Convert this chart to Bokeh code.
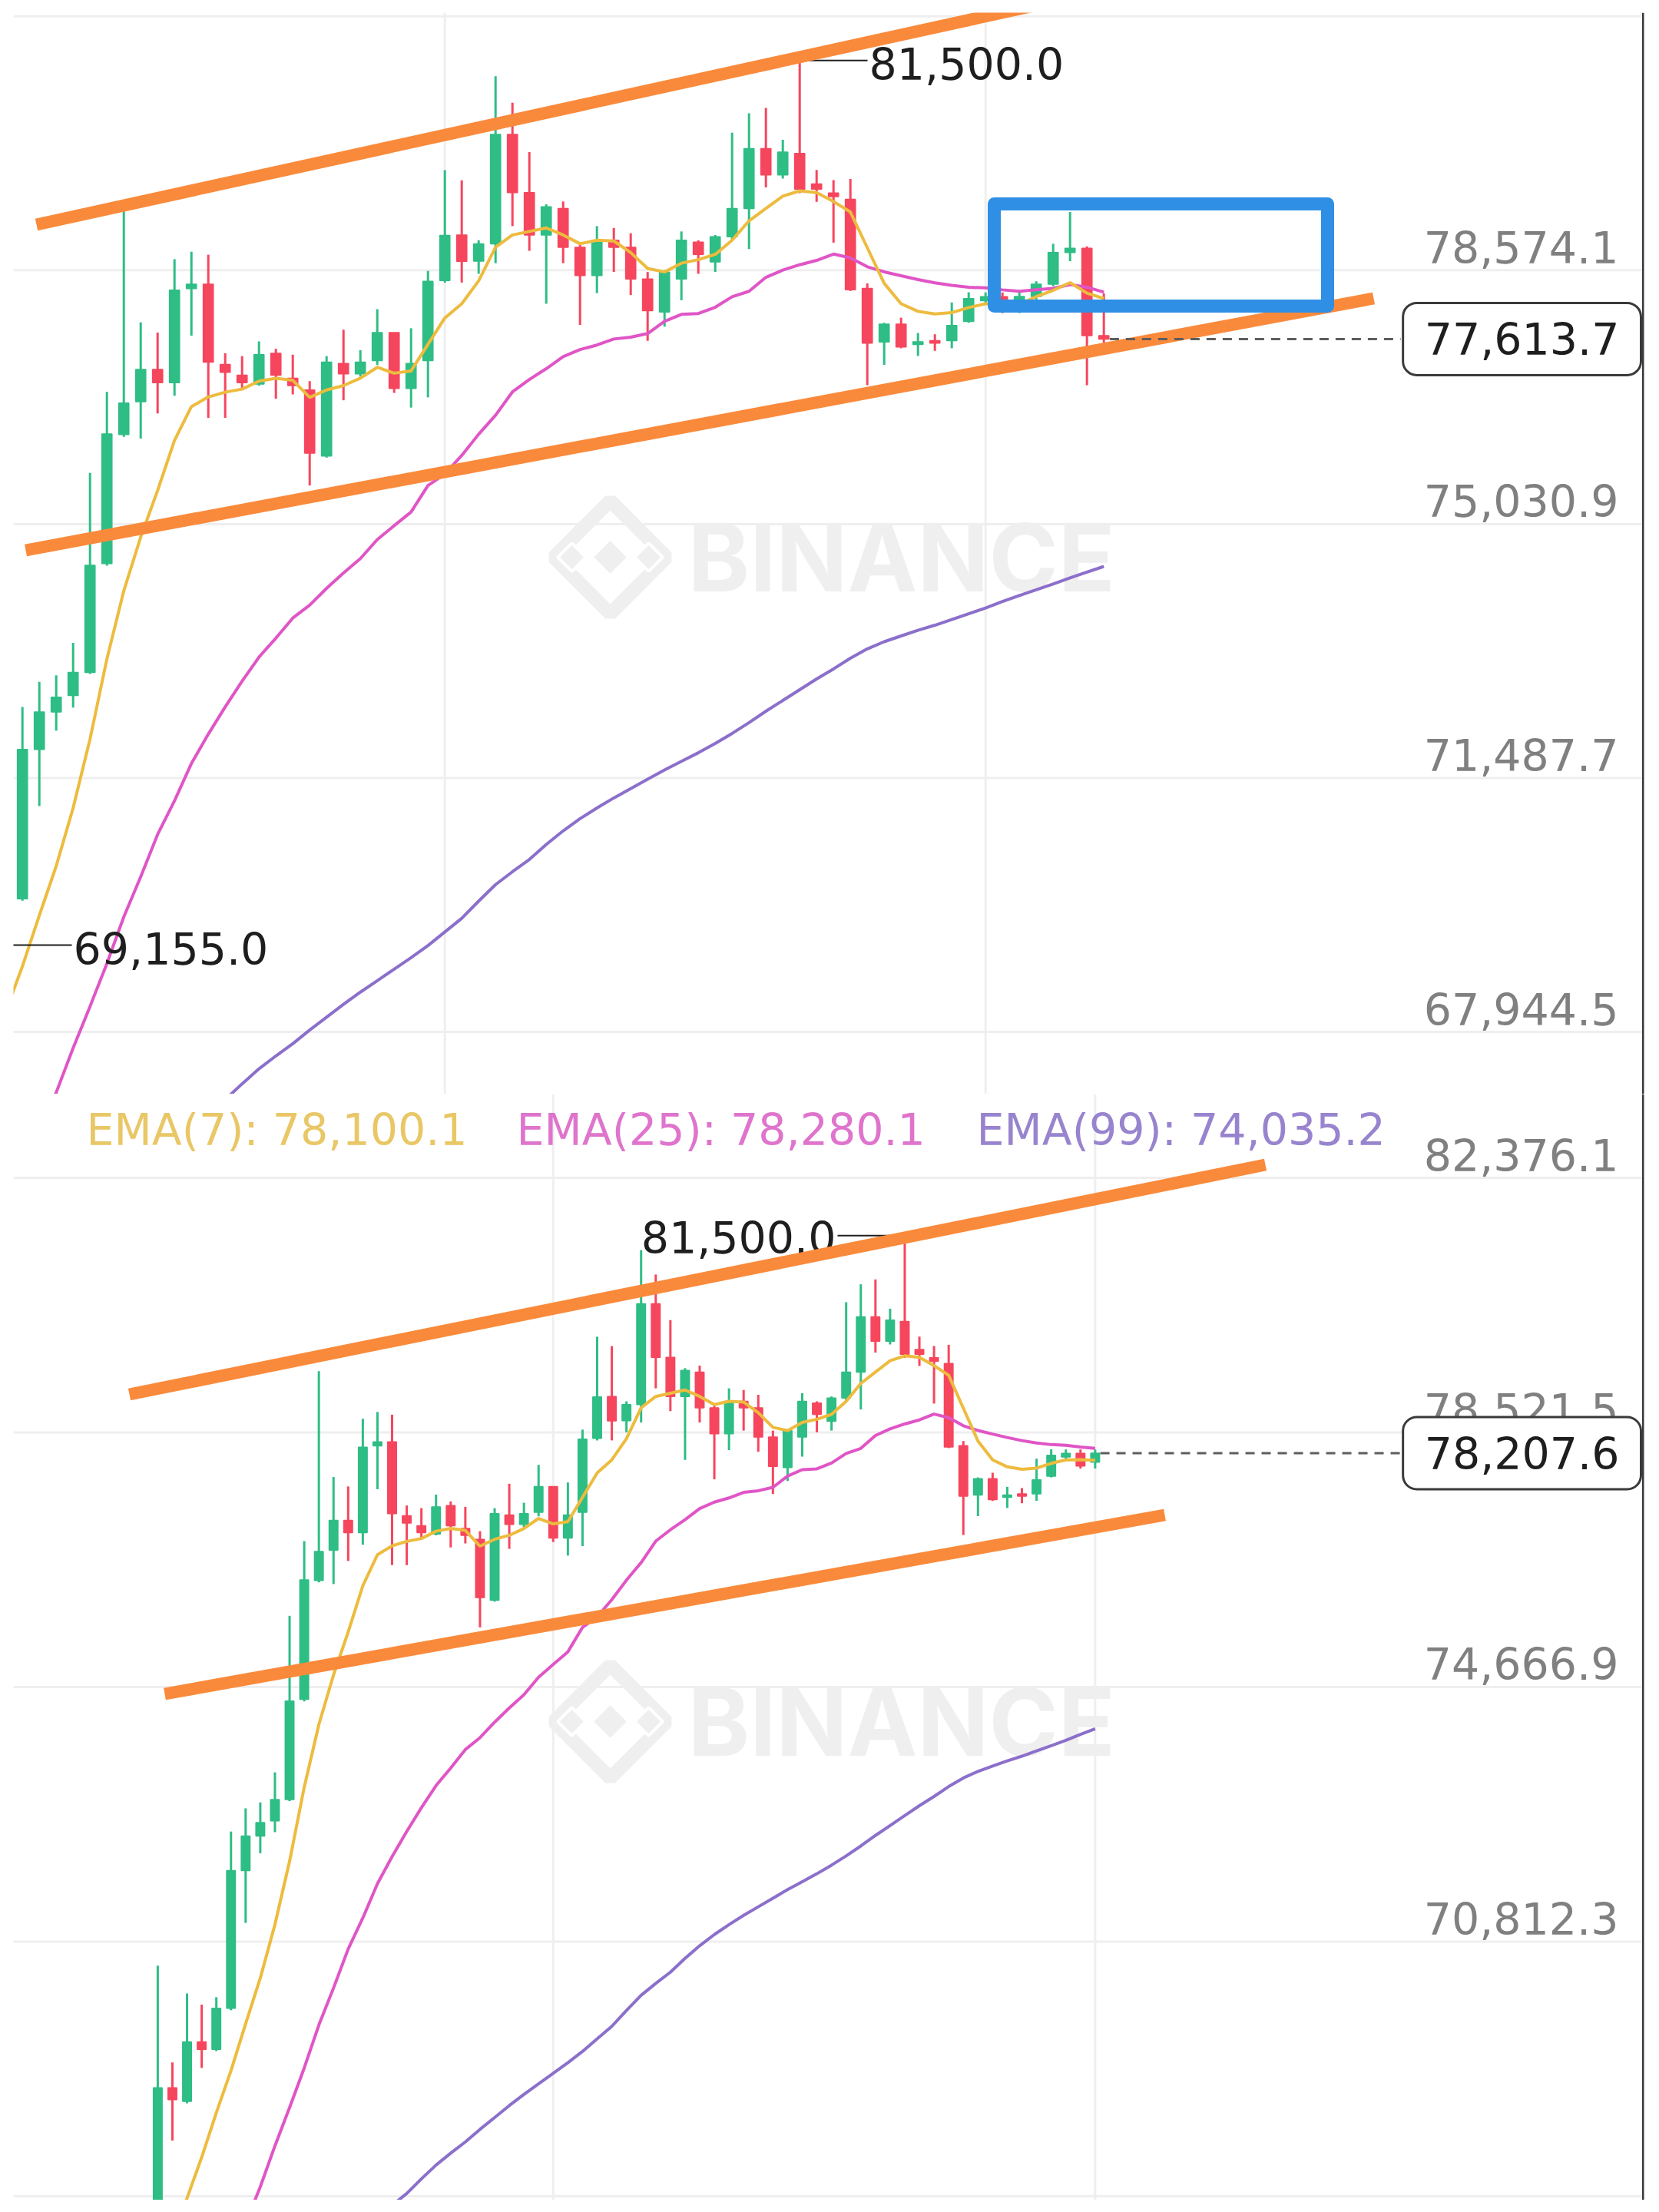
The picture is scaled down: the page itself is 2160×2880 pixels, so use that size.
import math
import numpy as np
from bokeh.plotting import figure
from bokeh.models import Range1d, Span, Label, ColumnDataSource
from bokeh.layouts import column
from bokeh.embed import file_html
from bokeh.resources import INLINE
from bokeh.core.properties import value

NAN = float("nan")

# ---------------- data: hourly candles, index k ----------------
# lower screenshot shows k = 0..64, upper (later) screenshot shows k = 5..69
opens = [66500, 68600, 68393, 69294, 69182, 69802, 71887, 72410, 72640, 72962,
         74480, 76280, 76739, 77190, 77005, 78318, 78380, 77260, 77108, 76985,
         77415, 77067, 76903, 75980, 77272, 77128, 77313, 77703, 76923, 77313,
         78430, 79066, 78700, 78943, 80469, 79657, 79066, 79435, 78894, 78500,
         78992, 78894, 78451, 77990, 78451, 78967, 78690, 79041, 79435, 80272,
         79903, 80203, 79777, 79653, 79564, 78320, 77573, 77822, 77538, 77592,
         77592, 77858, 78148, 78206, 78071, 78207, 78380, 78820, 78880, 77662]
closes = [68600, 68421, 69294, 69182, 69802, 71887, 72410, 72615, 72962, 74455,
          76290, 76720, 77190, 77005, 78297, 78380, 77292, 77149, 77005, 77395,
          77108, 76964, 76021, 77292, 77128, 77292, 77703, 76923, 77272, 78420,
          79060, 78697, 78943, 80469, 79657, 79066, 79460, 78894, 78500, 78992,
          78894, 78451, 78008, 78549, 78992, 78795, 79041, 79435, 80272, 79903,
          80223, 79706, 79706, 79600, 78302, 77556, 77822, 77503, 77574, 77556,
          77804, 78177, 78206, 78013, 78207.6, 78380, 78820, 78880, 77662, 77613.7]
highs = [70450, 68984, 70027, 69858, 69971, 72479, 72830, 72920, 73375, 75745,
         76876, 79450, 77846, 77703, 78728, 78831, 78790, 77415, 77375, 77580,
         77477, 77395, 77026, 77375, 77744, 77457, 78031, 77703, 77764, 78564,
         79970, 79829, 78992, 81281, 80912, 80222, 79494, 79533, 78943, 79189,
         79164, 79090, 78549, 78574, 79115, 78992, 79066, 80493, 80764, 80838,
         80395, 81500, 79972, 79830, 79848, 78391, 77840, 77911, 77698, 77680,
         78124, 78266, 78264, 78264, 78264, 78420, 78943, 79386, 78906, 78250]
lows = [66300, 67801, 68365, 68900, 69155, 69774, 71096, 72150, 72470, 72940,
        74450, 76250, 76226, 76575, 76821, 77662, 76513, 76513, 76903, 76964,
        76780, 76841, 75570, 75959, 76759, 77087, 77251, 76862, 76657, 76800,
        78400, 78401, 78524, 78672, 79189, 78844, 78106, 78672, 77811, 78254,
        78549, 78229, 77589, 77786, 78155, 78524, 78549, 78992, 78869, 79730,
        79853, 79650, 79528, 78959, 78284, 76969, 77254, 77485, 77378, 77449,
        77485, 77840, 78090, 77975, 77975, 77990, 78350, 78700, 76969, 77560]

ema7 = [NAN, 66300, 66930, 67547, 68224, 68860, 69570, 70260, 71070, 72030,
        73150, 74100, 74850, 75500, 76200, 76670, 76805, 76872, 76915, 77026,
        77067, 77038, 76800, 76903, 76964, 77067, 77219, 77137, 77169, 77539,
        77908, 78106, 78426, 78894, 79066, 79115, 79164, 79066, 78943, 78992,
        78982, 78820, 78598, 78549, 78672, 78721, 78795, 78992, 79263, 79435,
        79607, 79681, 79657, 79533, 79386, 78888, 78391, 78106, 78000, 77964,
        77982, 78053, 78106, 78110, 78100, 78205, 78293, 78401, 78254, 78180]
ema25 = [NAN, NAN, NAN, NAN, NAN, NAN, 66550, 67100, 67720, 68300,
         68900, 69550, 70110, 70700, 71170, 71690, 72100, 72480, 72840, 73175,
         73440, 73720, 73900, 74135, 74350, 74550, 74815, 75010, 75200, 75570,
         75730, 75990, 76285, 76550, 76876, 77048, 77200, 77368, 77466, 77530,
         77614, 77639, 77690, 77860, 77958, 77970, 78057, 78204, 78280, 78475,
         78575, 78650, 78711, 78799, 78746, 78622, 78551, 78497, 78444, 78398,
         78362, 78337, 78327, 78300, 78280, 78302, 78320, 78373, 78337, 78267]
ema99 = [NAN] * 16 + [66820, 67000, 67220, 67430,
         67610, 67780, 67970, 68150, 68330, 68500, 68660, 68820, 68980, 69150,
         69340, 69530, 69770, 70000, 70180, 70350, 70560, 70750, 70920, 71070,
         71210, 71340, 71470, 71600, 71720, 71840, 71970, 72110, 72260, 72420,
         72570, 72720, 72870, 73010, 73160, 73290, 73390, 73470, 73550, 73620,
         73700, 73780, 73860, 73950, 74035, 74115, 74195, 74280, 74360, 74440]

top_grid_prices = [82117.3, 78574.1, 75030.9, 71487.7, 67944.5]
top_label_prices = [78574.1, 75030.9, 71487.7, 67944.5]
bot_grid_prices = [82376.1, 78521.5, 74666.9, 70812.3, 66957.7]
bot_label_prices = [82376.1, 78521.5, 74666.9, 70812.3]
top_time_grid = [30, 62]
bot_time_grid = [27, 64]
legend_names = ["EMA(7)", "EMA(25)", "EMA(99)"]
legend_values = [78100.1, 78280.1, 74035.2]

TOP_FIRST, TOP_LAST = 5, 69
BOT_FIRST, BOT_LAST = 0, 64

# ---------------- style ----------------
GREEN = "#2EBD85"
RED = "#F6465D"
C7 = "#EDBB3E"
C25 = "#E055C6"
C99 = "#8B6FCB"
L7 = "#E9C766"
L25 = "#DF74CD"
L99 = "#9884CE"
ORANGE = "#FA8A3B"
BLUE = "#2F8FE4"
GRID = "#EFEFEF"
TICK = "#808080"
INK = "#1E1E1E"
WM = "#EFEFEF"
FONT = "DejaVu Sans"
FS = "57px"
W = 2144
FRAME_L, FRAME_R = 17, 2140


class Map:
    """pixel layout of one screenshot panel (reference pixel coords)."""
    def __init__(self, xa, xb, p0, y0, ppp):
        self.xa, self.xb, self.p0, self.y0, self.ppp = xa, xb, p0, y0, ppp

    def k(self, rx):
        return (rx - self.xa) / self.xb

    def p(self, ry):
        return self.p0 - (ry - self.y0) * self.ppp


TOPM = Map(-81.3, 22.0, 78574.1, 351.3, 10.718)
BOTM = Map(204.9, 19.07, 78521.5, 1864.5, 11.628)


def make_fig(m, fig_top, fig_bot, frame_top, frame_bot):
    p = figure(width=W, height=fig_bot - fig_top,
               x_range=Range1d(m.k(FRAME_L), m.k(FRAME_R)),
               y_range=Range1d(m.p(frame_bot), m.p(frame_top)),
               min_border_left=FRAME_L, min_border_right=W - FRAME_R,
               min_border_top=frame_top - fig_top,
               min_border_bottom=fig_bot - frame_bot,
               x_axis_type=None, y_axis_type=None, toolbar_location=None,
               output_backend="svg", outline_line_color=None,
               background_fill_color="white", border_fill_color="white")
    return p


def add_grid(p, prices, times):
    for pr in prices:
        p.add_layout(Span(location=pr, dimension="width", line_color=GRID,
                          line_width=3, level="underlay"))
    for t in times:
        p.add_layout(Span(location=t, dimension="height", line_color=GRID,
                          line_width=3, level="underlay"))


def add_tick_labels(p, m, prices):
    p.text(x=[m.k(2107)] * len(prices), y=[pr + 30 * m.ppp for pr in prices],
           text=[f"{pr:,.1f}" for pr in prices], text_align="right",
           text_baseline="middle", text_font=value(FONT),
           text_font_size=FS, text_color=TICK)


def add_watermark(p, m, cy):
    cx = 794
    p.scatter([m.k(cx)], [m.p(cy)], marker="square", angle=math.pi / 4,
              size=104, fill_alpha=0, line_color=WM, line_width=18)
    p.scatter([m.k(cx), m.k(cx - 50), m.k(cx + 50)], [m.p(cy)] * 3,
              marker="square", angle=math.pi / 4, size=[34, 26, 26],
              fill_color=WM, line_color="white", line_width=4)
    p.text(x=[m.k(895)], y=[m.p(cy)], text=["BINANCE"], text_align="left",
           text_baseline="middle", text_font=value("Inter"),
           text_font_size="122px", text_font_style="bold", text_color=WM)


def add_candles(p, ks, width):
    for up, col in ((True, GREEN), (False, RED)):
        sel = [k for k in ks if (closes[k] >= opens[k]) == up]
        src = ColumnDataSource(dict(
            k=sel,
            hi=[highs[k] for k in sel], lo=[lows[k] for k in sel],
            top=[max(opens[k], closes[k]) for k in sel],
            bot=[min(opens[k], closes[k]) for k in sel]))
        p.segment(x0="k", y0="lo", x1="k", y1="hi", source=src,
                  line_color=col, line_width=3)
        p.vbar(x="k", width=width, top="top", bottom="bot", source=src,
               fill_color=col, line_color=col, line_width=1.5)


def add_emas(p, last):
    ks = np.arange(last + 1)
    for arr, col in ((ema99, C99), (ema25, C25), (ema7, C7)):
        p.line(ks, np.array(arr[:last + 1], dtype=float), line_color=col,
               line_width=4)


def add_trend(p, m, a, b):
    (x0, y0), (x1, y1) = a, b
    p.segment(x0=[m.k(x0)], y0=[m.p(y0)], x1=[m.k(x1)], y1=[m.p(y1)],
              line_color=ORANGE, line_width=16, line_cap="butt")


def add_last_price(p, m, k_last, box_left_px):
    price = closes[k_last]
    p.segment(x0=[k_last + 0.35], y0=[price], x1=[m.k(box_left_px)], y1=[price],
              line_color="#5E5E5E", line_width=3, line_dash="12 9")
    p.add_layout(Label(x=m.k(2136), y=price, text=f"{price:,.1f}",
                       text_align="right", text_baseline="middle",
                       text_font=FONT, text_font_size=FS, text_color=INK,
                       background_fill_color="white", background_fill_alpha=1.0,
                       border_line_color="#3A3A3A", border_line_width=3,
                       padding=(28, 26), border_radius=18))


# ======================= upper screenshot =======================
top = make_fig(TOPM, 0, 1424, 16, 1424)
add_grid(top, top_grid_prices, top_time_grid)
add_watermark(top, TOPM, 725)
add_tick_labels(top, TOPM, top_label_prices)
top_ks = list(range(TOP_FIRST, TOP_LAST + 1))
add_candles(top, top_ks, 0.6)
add_emas(top, TOP_LAST)

# high / low markers
k_hi = max(range(TOP_FIRST, TOP_LAST + 1), key=lambda k: highs[k])
top.segment(x0=[k_hi], y0=[highs[k_hi]], x1=[TOPM.k(1129)], y1=[highs[k_hi]],
            line_color=INK, line_width=2)
top.text(x=[TOPM.k(1131)], y=[highs[k_hi] - 4 * TOPM.ppp],
         text=[f"{highs[k_hi]:,.1f}"], text_align="left", text_baseline="middle",
         text_font=value(FONT), text_font_size=FS, text_color=INK)
k_lo = min(range(TOP_FIRST - 1, TOP_LAST + 1), key=lambda k: lows[k])
top.segment(x0=[k_lo], y0=[lows[k_lo]], x1=[TOPM.k(93)], y1=[lows[k_lo]],
            line_color=INK, line_width=2)
top.text(x=[TOPM.k(95)], y=[lows[k_lo] - 4 * TOPM.ppp],
         text=[f"{lows[k_lo]:,.1f}"], text_align="left", text_baseline="middle",
         text_font=value(FONT), text_font_size=FS, text_color=INK)

# hand-drawn channel and box
add_trend(top, TOPM, (47, 292), (1400, 292 - 0.2195 * (1400 - 47)))
add_trend(top, TOPM, (33, 716), (1788, 388))
top.quad(left=[TOPM.k(1294)], right=[TOPM.k(1728)], top=[TOPM.p(265)],
         bottom=[TOPM.p(398)], fill_alpha=0, line_color=BLUE, line_width=17,
         line_join="round")

add_last_price(top, TOPM, TOP_LAST, 1823)
top.add_layout(Span(location=TOPM.k(2139), dimension="height",
                    line_color="#3A3A3A", line_width=3))

# ======================= lower screenshot =======================
bot = make_fig(BOTM, 1424, 2864, 1424, 2864)
add_grid(bot, bot_grid_prices, bot_time_grid)
add_watermark(bot, BOTM, 2241)
add_tick_labels(bot, BOTM, bot_label_prices)
bot_ks = list(range(BOT_FIRST, BOT_LAST + 1))
add_candles(bot, bot_ks, 0.6)
add_emas(bot, BOT_LAST)

kb_hi = max(bot_ks, key=lambda k: highs[k])
bot.segment(x0=[BOTM.k(1090)], y0=[highs[kb_hi]], x1=[kb_hi], y1=[highs[kb_hi]],
            line_color=INK, line_width=2)
bot.text(x=[BOTM.k(1088)], y=[highs[kb_hi] - 2 * BOTM.ppp],
         text=[f"{highs[kb_hi]:,.1f}"], text_align="right", text_baseline="middle",
         text_font=value(FONT), text_font_size=FS, text_color=INK)

add_trend(bot, BOTM, (168, 1815), (1647, 1516))
add_trend(bot, BOTM, (214, 2205), (1516, 1972))

# EMA legend
leg_x = [112, 672, 1271]
for name, val, lx, col in zip(legend_names, legend_values, leg_x, (L7, L25, L99)):
    bot.text(x=[BOTM.k(lx)], y=[BOTM.p(1470)], text=[f"{name}: {val:,.1f}"],
             text_align="left", text_baseline="middle", text_font=value(FONT),
             text_font_size=FS, text_color=col)

add_last_price(bot, BOTM, BOT_LAST, 1825)
bot.add_layout(Span(location=BOTM.k(2139), dimension="height",
                    line_color="#3A3A3A", line_width=3))

layout = column(top, bot, spacing=0)
open("out.html", "w").write(file_html(layout, INLINE))
